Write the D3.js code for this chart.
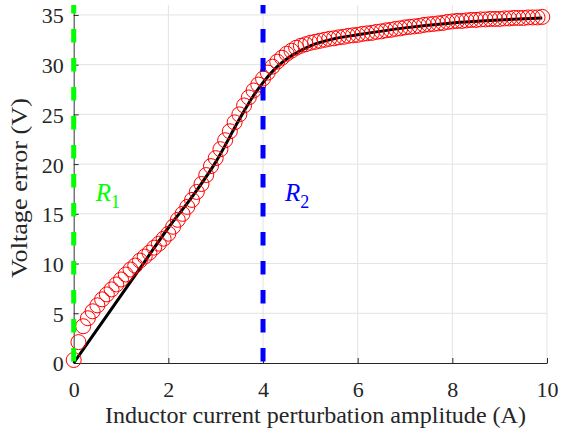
<!DOCTYPE html>
<html><head><meta charset="utf-8">
<script src="https://cdn.jsdelivr.net/npm/d3@7"></script>
<style>
html,body{margin:0;padding:0;background:#fff;}
</style></head>
<body><svg id="c" width="561" height="437"></svg>
<script>
// Measured data (red circles), x = 0 .. 9.9 step 0.1
const measX = d3.range(0, 100).map(i => +(i * 0.1).toFixed(1));
const measY = [
  0.3, 2.1, 3.7, 4.5, 5.2, 5.8, 6.4, 6.9, 7.4, 7.9,
  8.4, 8.9, 9.4, 9.8, 10.3, 10.7, 11.1, 11.6, 12.0, 12.5,
  13.0, 13.7, 14.4, 15.0, 15.7, 16.4, 17.2, 18.0, 18.9, 19.8,
  20.6, 21.5, 22.4, 23.3, 24.2, 25.0, 25.9, 26.7, 27.4, 28.0,
  28.6, 29.2, 29.8, 30.3, 30.7, 31.1, 31.4, 31.7, 31.9, 32.05,
  32.2, 32.3, 32.4, 32.5, 32.6, 32.65, 32.75, 32.8, 32.9, 32.95,
  33.0, 33.1, 33.15, 33.2, 33.3, 33.35, 33.45, 33.5, 33.6, 33.65,
  33.75, 33.8, 33.85, 33.9, 34.0, 34.05, 34.1, 34.15, 34.2, 34.3,
  34.35, 34.4, 34.4, 34.45, 34.5, 34.5, 34.55, 34.55, 34.6, 34.6,
  34.6, 34.65, 34.65, 34.7, 34.7, 34.7, 34.75, 34.75, 34.75, 34.8
];
// Fitted curve (black line)
const fitX = [0, 0.5, 1, 1.5, 2, 2.5, 3, 3.5, 3.8, 4, 4.3, 4.6, 5, 5.5, 6, 7, 8, 9, 9.9];
const fitY = [0, 3.4, 6.8, 10.2, 13.6, 16.7, 20.2, 24.5, 26.9, 28.2, 29.8, 30.9, 31.9, 32.6, 33.0, 33.7, 34.2, 34.5, 34.7];
// Region boundaries
const boundX = [0, 4];
const boundLabels = ["1", "2"];
const boundColors = ["#00ff00", "#0000ff"];
const xTicks = [0, 2, 4, 6, 8, 10];
const yTicks = [0, 5, 10, 15, 20, 25, 30, 35];
const xTitle = "Inductor current perturbation amplitude (A)";
const yTitle = "Voltage error (V)";

const FONT = "Liberation Serif";
const svg = d3.select("#c");
const L = 73.7, R = 547, B = 363, T = 5;
const x = d3.scaleLinear().domain([0, 10]).range([L, R]);
const y = d3.scaleLinear().domain([0, 36]).range([B, T]);

// grid
const g = svg.append("g");
g.selectAll(".vg").data(xTicks.filter(d => d > 0)).join("line")
  .attr("x1", d => x(d)).attr("x2", d => x(d)).attr("y1", B).attr("y2", T)
  .attr("stroke", "#e3e3e3").attr("stroke-width", 1);
g.selectAll(".hg").data(yTicks.filter(d => d > 0)).join("line")
  .attr("x1", L).attr("x2", R).attr("y1", d => y(d)).attr("y2", d => y(d))
  .attr("stroke", "#e3e3e3").attr("stroke-width", 1);

// axes
const xa = svg.append("g").attr("transform", `translate(0,${B})`)
  .call(d3.axisBottom(x).tickValues(xTicks).tickSize(-5).tickSizeOuter(0).tickPadding(10));
xa.attr("font-family", FONT);
xa.select(".domain").attr("stroke", "#262626").attr("stroke-width", 1.2);
xa.selectAll(".tick line").attr("stroke", "#262626");
xa.selectAll(".tick text").attr("font-size", 22).attr("fill", "#262626")
  .attr("font-family", FONT).attr("y", 34).attr("dy", 0);

const ya = svg.append("g").attr("transform", `translate(${L},0)`)
  .call(d3.axisLeft(y).tickValues(yTicks).tickSize(-5).tickSizeOuter(0).tickPadding(10));
ya.attr("font-family", FONT);
ya.select(".domain").attr("stroke", "#555").attr("stroke-width", 1.2);
ya.selectAll(".tick line").attr("stroke", "#262626");
ya.selectAll(".tick text").attr("font-size", 22).attr("fill", "#262626")
  .attr("font-family", FONT).attr("x", -10).attr("dy", "0.36em");

// fit line
const pts = fitX.map((v, i) => [v, fitY[i]]);
svg.append("path").datum(pts)
  .attr("d", d3.line().x(d => x(d[0])).y(d => y(d[1])).curve(d3.curveMonotoneX))
  .attr("fill", "none").attr("stroke", "#000").attr("stroke-width", 3);

// circles
svg.append("g").selectAll("circle").data(measX.map((v, i) => [v, measY[i]])).join("circle")
  .attr("cx", d => x(d[0])).attr("cy", d => y(d[1])).attr("r", 7.5)
  .attr("fill", "none").attr("stroke", "#ff0000").attr("stroke-width", 1);

// boundary dashed lines
svg.append("g").selectAll("line").data(boundX).join("line")
  .attr("x1", d => x(d)).attr("x2", d => x(d)).attr("y1", T).attr("y2", B)
  .attr("stroke", (d, i) => boundColors[i]).attr("stroke-width", 5)
  .attr("stroke-dasharray", "13.5,15.5").attr("stroke-dashoffset", 5);

// R labels
const lab = svg.append("g").attr("font-family", FONT).selectAll("text").data(boundX).join("text")
  .attr("x", d => x(d) + 22).attr("y", 201)
  .attr("fill", (d, i) => boundColors[i]);
lab.append("tspan").attr("font-style", "italic").attr("font-size", 25).text("R");
lab.append("tspan").attr("font-size", 18).attr("dy", 7).text((d, i) => boundLabels[i]);

// titles
svg.append("text").attr("x", 315.5).attr("y", 423).attr("text-anchor", "middle")
  .attr("font-family", FONT).attr("fill", "#262626")
  .attr("font-size", 24).attr("textLength", 421).attr("lengthAdjust", "spacingAndGlyphs")
  .text(xTitle);
svg.append("text").attr("transform", "translate(27,188) rotate(-90)").attr("text-anchor", "middle")
  .attr("font-family", FONT).attr("fill", "#262626")
  .attr("font-size", 24).attr("textLength", 180).attr("lengthAdjust", "spacingAndGlyphs")
  .text(yTitle);
</script></body></html>
